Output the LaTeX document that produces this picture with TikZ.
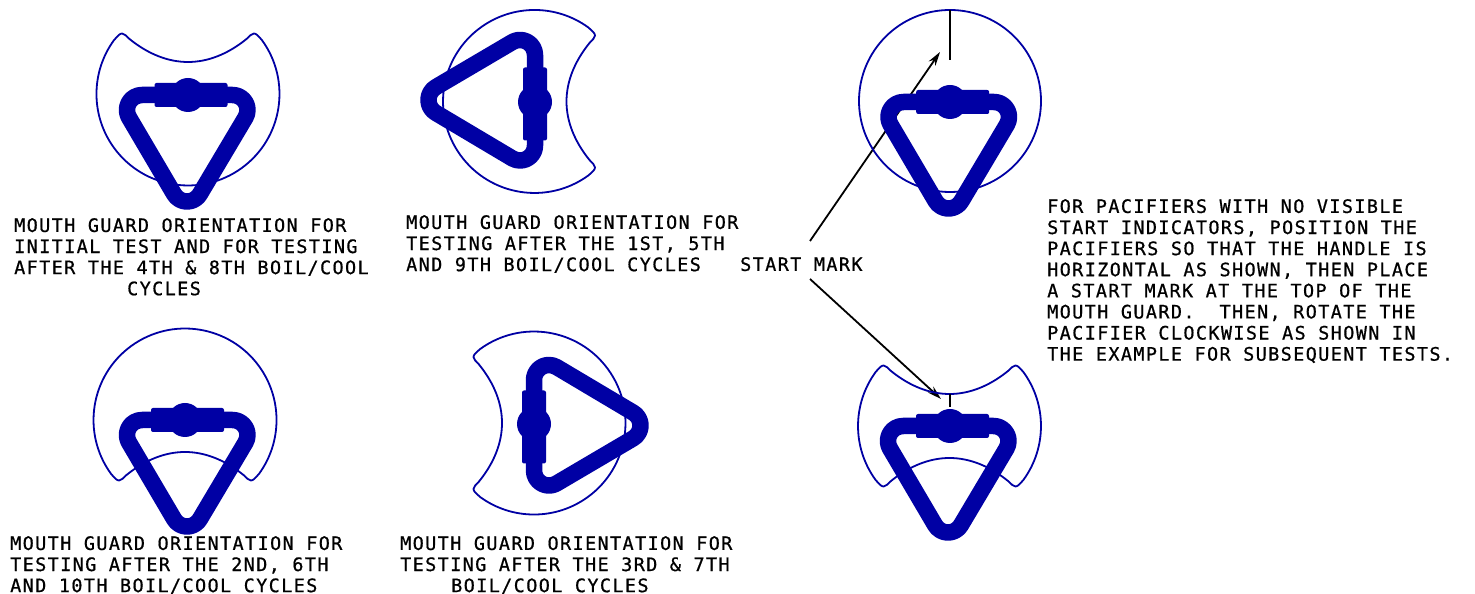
\documentclass[tikz,border=0pt]{standalone}
\usepackage{fontspec}
\setmainfont{DejaVu Sans Mono}[LetterSpace=7.4,FakeBold=0.7]
\usetikzlibrary{arrows.meta}
\definecolor{guardblue}{HTML}{0000A4}
\tikzset{
  guardline/.style={draw=guardblue,line width=1.8pt,line join=round},
  handlebar/.style={draw=guardblue,line width=16.5pt,line join=round},
  handlefill/.style={fill=guardblue,draw=none},
  leader/.style={draw=black,line width=1.8pt,-{Stealth[length=14pt,width=8pt]}},
  startmark/.style={draw=black,line width=2.6pt},
  caption/.style={font=\fontsize{18.5}{21.1}\selectfont,align=left,anchor=north west,inner sep=0pt,text=black}
}
% the pacifier: x, y, rotation, shift of the grip, shift of the knob
\newcommand{\pacifierAt}[5]{%
  \begin{scope}[shift={(#1,594-#2)},rotate=#3]
    \draw[handlebar] (-46.5,0) -- (44,0) arc[start angle=90,end angle=-30,radius=15]
      -- (11.5,-99) arc[start angle=-30,end angle=-150,radius=15]
      -- (-59.5,-22.5) arc[start angle=210,end angle=90,radius=15] -- cycle;
    \fill[handlefill,rounded corners=2pt] (#4-36.5,-12) rectangle (#4+36.5,12);
    \fill[handlefill] (#5,0) circle[radius=17];
  \end{scope}}
\newcommand{\notchpath}{(-74,53.8) .. controls (-70,58.5) and (-68,60.5) .. (-66,60.5)
  .. controls (-63.5,60.5) and (-62,58) .. (-58.5,55)
  .. controls (-40,40) and (-20,32) .. (0,32)
  .. controls (20,32) and (40,40) .. (58.5,55)
  .. controls (62,58) and (63.5,60.5) .. (66,60.5)
  .. controls (68,60.5) and (70,58.5) .. (74,53.8)}
\newcommand{\guardAt}[3]{%
  \begin{scope}[shift={(#1,594-#2)},rotate=#3]
    \draw[guardline] \notchpath arc[start angle=36,end angle=-216,radius=91.5] -- cycle;
  \end{scope}}
\begin{document}
\begin{tikzpicture}[x=1pt,y=1pt]
\useasboundingbox (0,0) rectangle (1475,594);
\fill[white] (0,0) rectangle (1475,594);

% leaders (behind the pacifiers)
\coordinate (upstart) at (810,594-241);
\coordinate (uptip) at (940,594-52);
\coordinate (downstart) at (810,594-279);
\coordinate (downtip) at (941,594-399);
\draw[leader] (upstart) -- (uptip);
\draw[leader] (downstart) -- (downtip);

% guards
\guardAt{188}{94}{0}
\guardAt{534.5}{101.5}{-90}
\guardAt{185}{420}{180}
\guardAt{534}{423}{90}
\draw[guardline] (950,594-101) circle[radius=91];
\begin{scope}[shift={(949.5,594-426)}]
  \draw[guardline] \notchpath arc[start angle=36,end angle=-36,radius=91.5]
    .. controls (70,-58.5) and (68,-60.5) .. (66,-60.5)
    .. controls (63.5,-60.5) and (62,-58) .. (58.5,-55)
    .. controls (40,-40) and (20,-32) .. (0,-32)
    .. controls (-20,-32) and (-40,-40) .. (-58.5,-55)
    .. controls (-62,-58) and (-63.5,-60.5) .. (-66,-60.5)
    .. controls (-68,-60.5) and (-70,-58.5) .. (-74,-53.8)
    arc[start angle=216,end angle=144,radius=91.5] -- cycle;
\end{scope}

% start marks
\coordinate (m1a) at (950,594-10);
\coordinate (m1b) at (950,594-60);
\draw[startmark] (m1a) -- (m1b);
\coordinate (m2a) at (950,594-394);
\coordinate (m2b) at (950,594-407);
\draw[startmark] (m2a) -- (m2b);

% pacifiers
\pacifierAt{188.5}{95}{0}{2.5}{-0.5}
\pacifierAt{535}{101.5}{-90}{2.5}{0.5}
\pacifierAt{188.5}{420}{0}{-1}{-3.5}
\pacifierAt{534}{424}{90}{-3}{0}
\pacifierAt{950}{102}{0}{2.7}{0}
\pacifierAt{949.5}{426}{0}{3}{0.5}

% texts
\node[caption] (t1) at (14,594-218) {MOUTH GUARD ORIENTATION FOR\\INITIAL TEST AND FOR TESTING\\AFTER THE 4TH \& 8TH BOIL/COOL\\\hspace*{113pt}CYCLES};
\node[caption] (t2) at (406,594-215) {MOUTH GUARD ORIENTATION FOR\\TESTING AFTER THE 1ST, 5TH\\AND 9TH BOIL/COOL CYCLES};
\node[caption] (t3) at (10,594-536) {MOUTH GUARD ORIENTATION FOR\\TESTING AFTER THE 2ND, 6TH\\AND 10TH BOIL/COOL CYCLES};
\node[caption] (t4) at (400,594-536) {MOUTH GUARD ORIENTATION FOR\\TESTING AFTER THE 3RD \& 7TH\\\hspace*{51pt}BOIL/COOL CYCLES};
\node[caption] (t5) at (740,594-257) {START MARK};
\node[caption] (t6) at (1047,594-199) {FOR PACIFIERS WITH NO VISIBLE\\START INDICATORS, POSITION THE\\PACIFIERS SO THAT THE HANDLE IS\\HORIZONTAL AS SHOWN, THEN PLACE\\A START MARK AT THE TOP OF THE\\MOUTH GUARD.\ \ THEN, ROTATE THE\\PACIFIER CLOCKWISE AS SHOWN IN\\THE EXAMPLE FOR SUBSEQUENT TESTS.};
\end{tikzpicture}
\end{document}
